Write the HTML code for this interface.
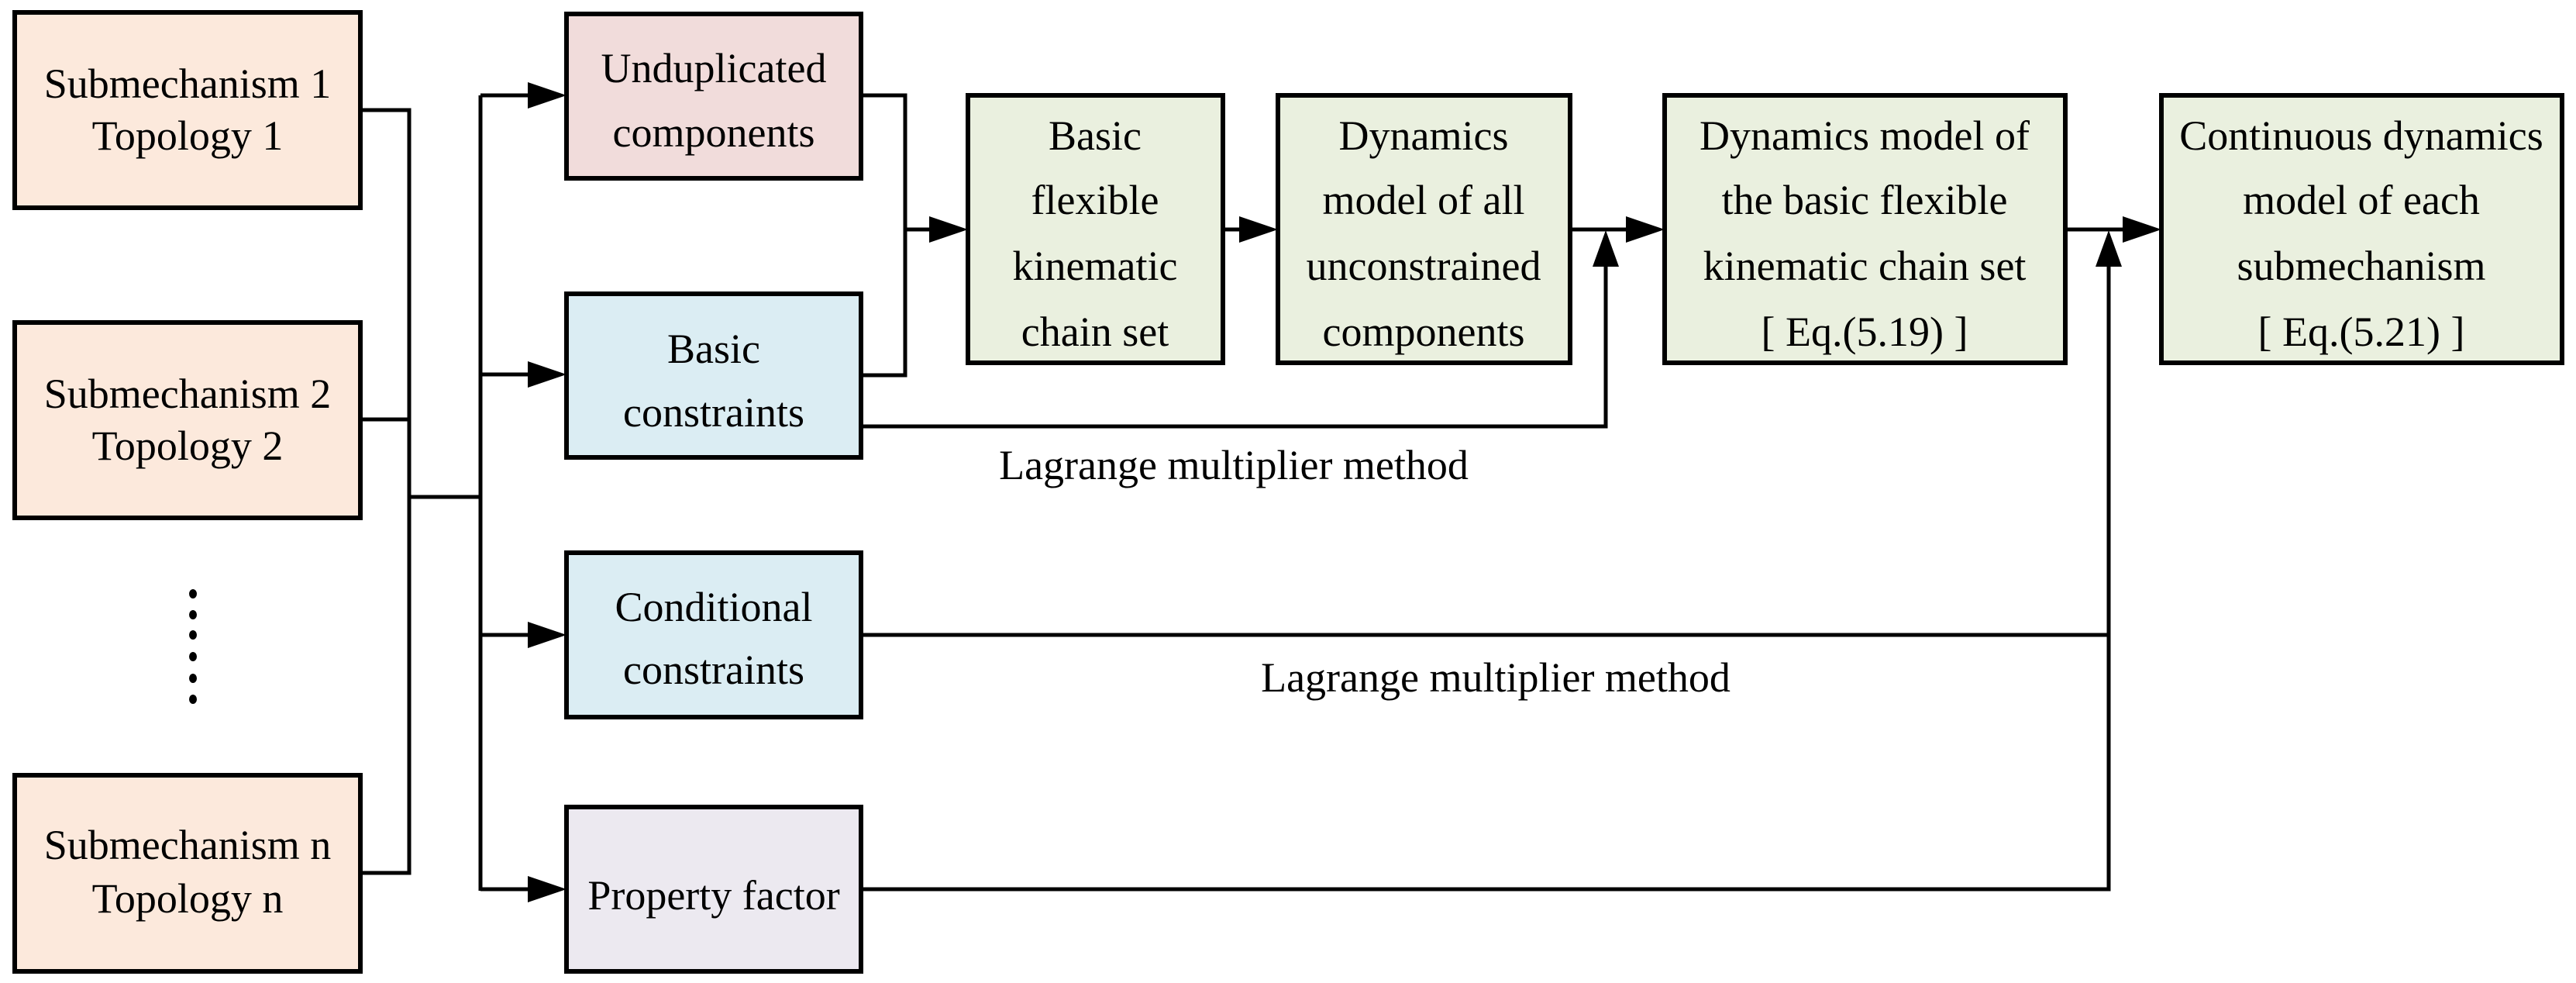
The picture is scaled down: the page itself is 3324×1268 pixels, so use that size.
<!DOCTYPE html>
<html><head><meta charset="utf-8"><style>html,body{margin:0;padding:0;background:#fff}svg{display:block}</style></head>
<body>
<svg width="3324" height="1268" viewBox="0 0 3324 1268" xmlns="http://www.w3.org/2000/svg" font-family="'Liberation Serif', serif" font-size="54" text-anchor="middle">
<g stroke="#000" stroke-width="6">
<rect x="19" y="16" width="446" height="252" fill="#fce9dc"/>
<rect x="19" y="416" width="446" height="252" fill="#fce9dc"/>
<rect x="19" y="1000" width="446" height="253" fill="#fce9dc"/>
<rect x="731" y="18" width="380" height="212" fill="#f1dcdb"/>
<rect x="731" y="379" width="380" height="211" fill="#dbedf3"/>
<rect x="731" y="713" width="380" height="212" fill="#dbedf3"/>
<rect x="731" y="1041" width="380" height="212" fill="#ece9f0"/>
<rect x="1249" y="123" width="329" height="345" fill="#eaf0df"/>
<rect x="1649" y="123" width="377" height="345" fill="#eaf0df"/>
<rect x="2148" y="123" width="517" height="345" fill="#eaf0df"/>
<rect x="2789" y="123" width="517" height="345" fill="#eaf0df"/>
</g>
<g stroke="#000" stroke-width="5" fill="none">
<polyline points="465,142 528,142 528,1126 465,1126"/>
<line x1="465" y1="541" x2="528" y2="541"/>
<line x1="528" y1="641" x2="620" y2="641"/>
<line x1="620" y1="123" x2="620" y2="1149"/>
<line x1="620" y1="123" x2="685" y2="123"/>
<line x1="620" y1="483" x2="685" y2="483"/>
<line x1="620" y1="819" x2="685" y2="819"/>
<line x1="620" y1="1147" x2="685" y2="1147"/>
<polyline points="1111,123 1168,123 1168,484 1111,484"/>
<line x1="1168" y1="296" x2="1203" y2="296"/>
<line x1="1578" y1="296" x2="1603" y2="296"/>
<line x1="2026" y1="296" x2="2100" y2="296"/>
<polyline points="1111,550 2072,550 2072,340"/>
<line x1="2665" y1="296" x2="2743" y2="296"/>
<polyline points="1111,819 2721,819"/>
<polyline points="1111,1147 2721,1147 2721,340"/>
</g>
<g fill="#000">
<polygon points="681,106 731,123 681,140"/>
<polygon points="681,466 731,483 681,500"/>
<polygon points="681,802 731,819 681,836"/>
<polygon points="681,1130 731,1147 681,1164"/>
<polygon points="1199,279 1249,296 1199,313"/>
<polygon points="1599,279 1649,296 1599,313"/>
<polygon points="2098,279 2148,296 2098,313"/>
<polygon points="2739,279 2789,296 2739,313"/>
<polygon points="2055,344 2072,297 2089,344"/>
<polygon points="2704,344 2721,297 2738,344"/>
<ellipse cx="249" cy="766" rx="5" ry="6"/>
<ellipse cx="249" cy="793" rx="5" ry="6"/>
<ellipse cx="249" cy="819" rx="5" ry="6"/>
<ellipse cx="249" cy="847" rx="5" ry="6"/>
<ellipse cx="249" cy="875" rx="5" ry="6"/>
<ellipse cx="249" cy="902" rx="5" ry="6"/>
</g>
<g fill="#000">
<text x="242" y="126">Submechanism 1</text>
<text x="242" y="193">Topology 1</text>
<text x="242" y="526">Submechanism 2</text>
<text x="242" y="593">Topology 2</text>
<text x="242" y="1108">Submechanism n</text>
<text x="242" y="1177">Topology n</text>
<text x="921" y="106">Unduplicated</text>
<text x="921" y="189">components</text>
<text x="921" y="468">Basic</text>
<text x="921" y="550">constraints</text>
<text x="921" y="801">Conditional</text>
<text x="921" y="882">constraints</text>
<text x="921" y="1173">Property factor</text>
<text x="1413" y="193">Basic</text>
<text x="1413" y="276">flexible</text>
<text x="1413" y="361">kinematic</text>
<text x="1413" y="446">chain set</text>
<text x="1837" y="193">Dynamics</text>
<text x="1837" y="276">model of  all</text>
<text x="1837" y="361">unconstrained</text>
<text x="1837" y="446">components</text>
<text x="2406" y="193">Dynamics model of</text>
<text x="2406" y="276">the basic flexible</text>
<text x="2406" y="361">kinematic chain set</text>
<text x="2406" y="446">[ Eq.(5.19) ]</text>
<text x="3047" y="193">Continuous dynamics</text>
<text x="3047" y="276">model of each</text>
<text x="3047" y="361">submechanism</text>
<text x="3047" y="446">[ Eq.(5.21) ]</text>
<text x="1592" y="618">Lagrange multiplier method</text>
<text x="1930" y="892">Lagrange multiplier method</text>
</g>
</svg>
</body></html>
